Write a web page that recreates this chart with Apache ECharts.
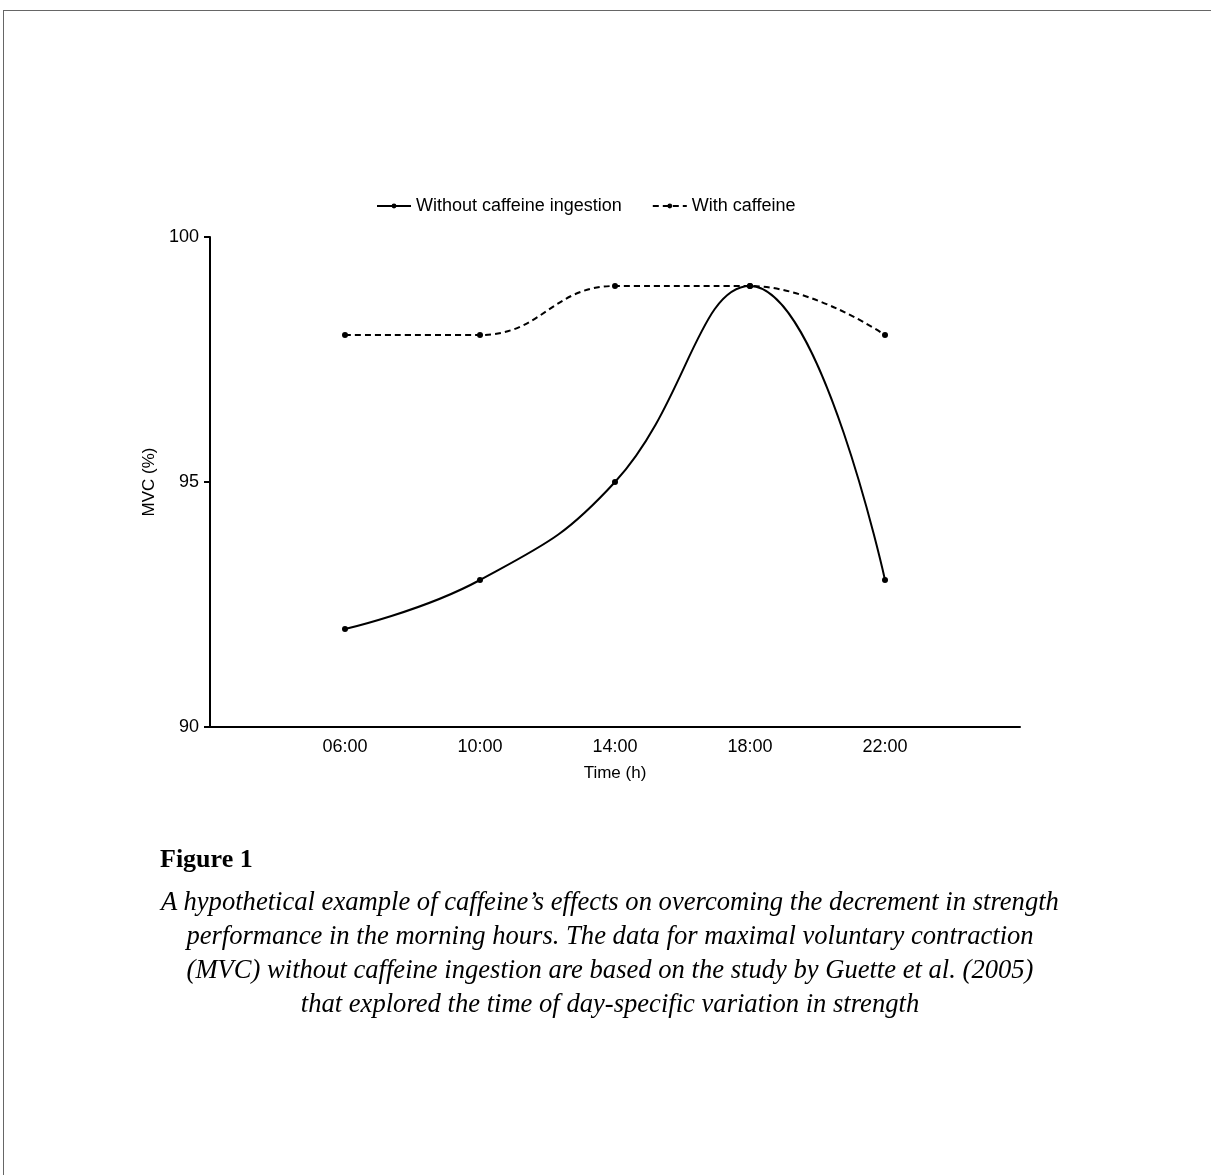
<!DOCTYPE html>
<html>
<head>
<meta charset="utf-8">
<script src="https://cdn.jsdelivr.net/npm/echarts@6/dist/echarts.min.js"></script>
<style>
html,body{margin:0;padding:0;background:#fff;}
#frame{position:absolute;left:3px;top:10px;width:1300px;height:1300px;border-top:1.5px solid #666;border-left:1.5px solid #666;}
#chart{position:absolute;left:0;top:0;width:1211px;height:1175px;}
#cap{position:absolute;left:0;top:840px;width:1211px;font-family:"Liberation Serif","DejaVu Serif",serif;color:#000;}
#cap .h{position:absolute;left:160px;top:4px;font-weight:bold;font-size:26px;}
#cap .t{position:absolute;left:0;top:44px;width:1220px;text-align:center;font-style:italic;font-size:26.6px;line-height:34px;}
</style>
</head>
<body>
<div id="frame"></div>
<div id="chart"></div>
<div id="cap">
<div class="h">Figure 1</div>
<div class="t">A hypothetical example of caffeine’s effects on overcoming the decrement in strength<br>performance in the morning hours. The data for maximal voluntary contraction<br>(MVC) without caffeine ingestion are based on the study by Guette et al. (2005)<br>that explored the time of day-specific variation in strength</div>
</div>
<script>
const categories = ['', '06:00', '10:00', '14:00', '18:00', '22:00', ''];
const withoutCaffeine = [null, 92, 93, 95, 99, 93, null];
const withCaffeine = [null, 98, 98, 99, 99, 98, null];
const yTicks = [90, 95, 100];

const chart = echarts.init(document.getElementById('chart'));
const font = 'Liberation Sans, Arial, sans-serif';
chart.setOption({
  animation: false,
  backgroundColor: 'transparent',
  legend: {
    top: 192, left: 371, itemGap: 30, itemWidth: 34, itemHeight: 6,
    textStyle: {fontFamily: font, fontSize: 18, color: '#000'},
    data: ['Without caffeine ingestion', 'With caffeine']
  },
  grid: {left: 210, right: 191, top: 237, bottom: 448},
  xAxis: {
    type: 'category', data: categories, boundaryGap: false,
    axisLine: {lineStyle: {color: '#000', width: 2}},
    axisTick: {show: false},
    axisLabel: {fontFamily: font, fontSize: 18, color: '#000', margin: 11, interval: 0},
    name: 'Time (h)', nameLocation: 'middle', nameGap: 38,
    nameTextStyle: {fontFamily: font, fontSize: 17, color: '#000'},
    splitLine: {show: false}
  },
  yAxis: {
    type: 'value', min: 90, max: 100, interval: 5,
    axisLine: {show: true, lineStyle: {color: '#000', width: 2}},
    axisTick: {show: true, length: 6, lineStyle: {color: '#000', width: 2}},
    axisLabel: {fontFamily: font, fontSize: 18, color: '#000', margin: 11,
      formatter: v => yTicks.includes(v) ? String(v) : ''},
    splitLine: {show: false},
    name: 'MVC (%)', nameLocation: 'middle', nameGap: 46, nameRotate: 90,
    nameTextStyle: {fontFamily: font, fontSize: 17, color: '#000'}
  },
  series: [
    {
      name: 'Without caffeine ingestion', type: 'line', data: withoutCaffeine,
      smooth: 0.45, symbol: 'circle', symbolSize: 6,
      lineStyle: {color: '#000', width: 2},
      itemStyle: {color: '#000'}
    },
    {
      name: 'With caffeine', type: 'line', data: withCaffeine,
      smooth: 0.45, symbol: 'circle', symbolSize: 6,
      lineStyle: {color: '#000', width: 2, type: [6, 4]},
      itemStyle: {color: '#000'}
    }
  ]
});
</script>
</body>
</html>
